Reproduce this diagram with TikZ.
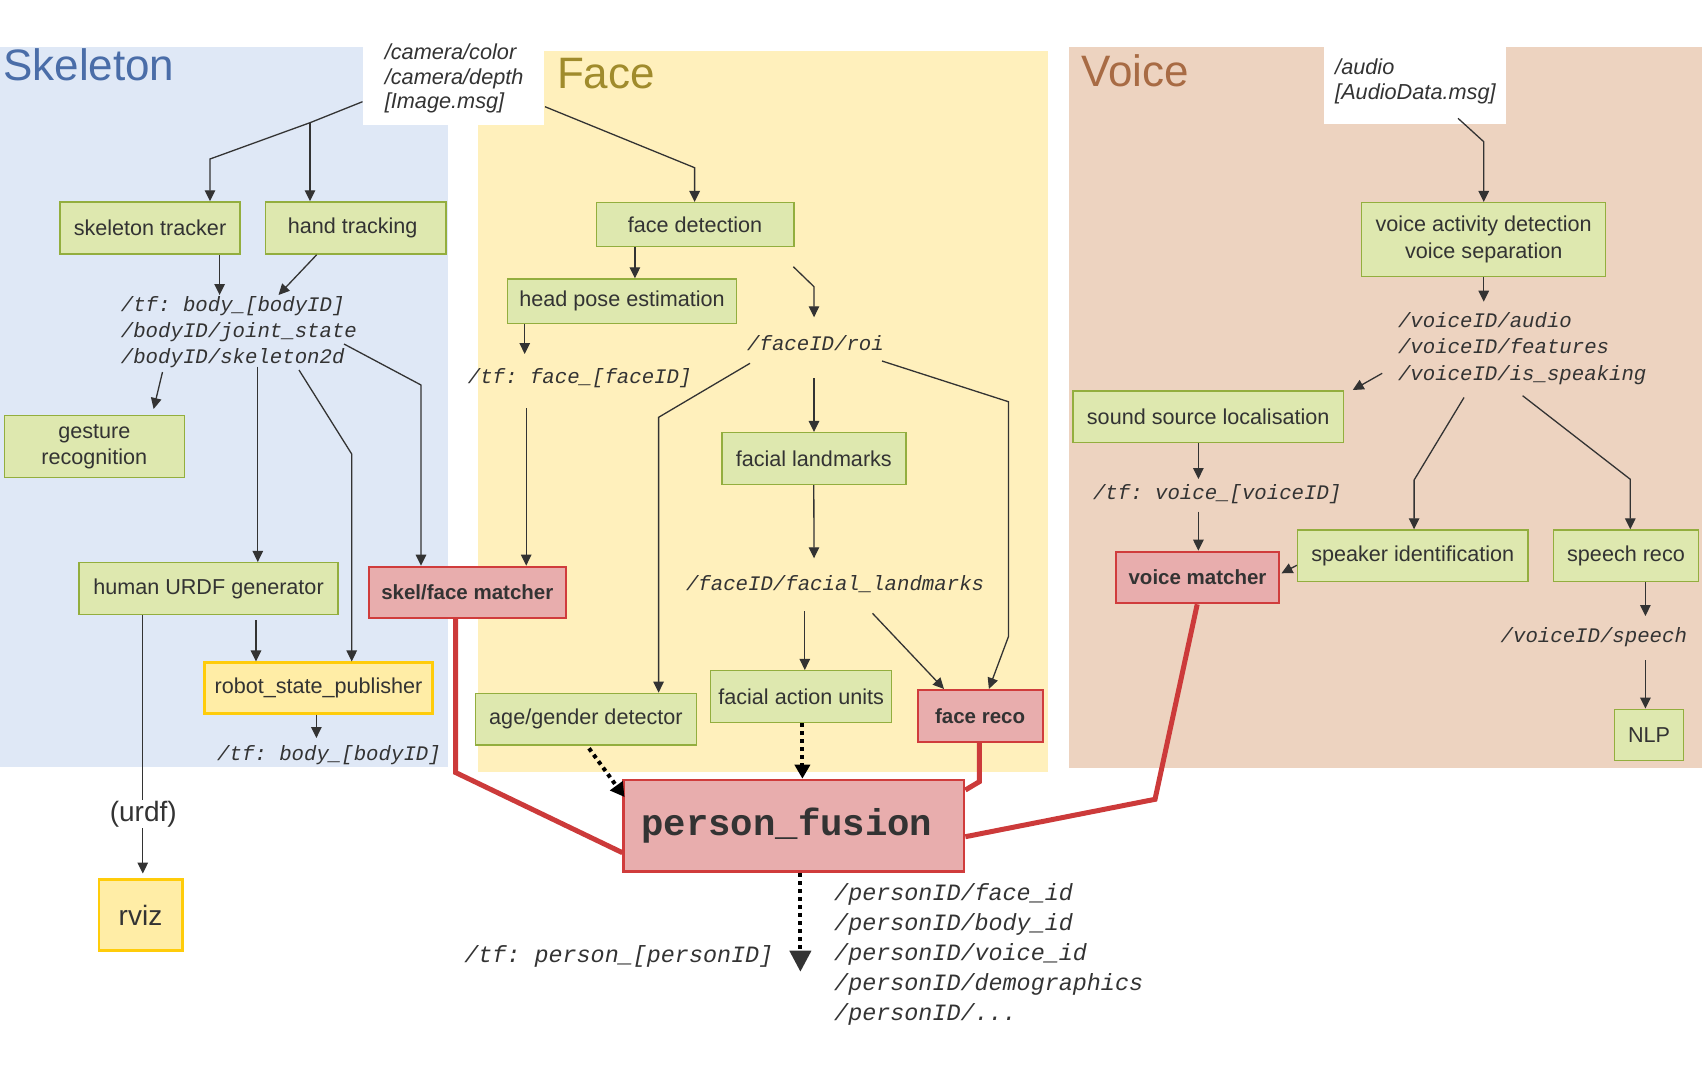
\documentclass[tikz,border=0pt]{standalone}
\usepackage{fontspec}
\setmainfont{Liberation Sans}
\setmonofont{Liberation Mono}
\usetikzlibrary{arrows.meta}
\definecolor{bgblue}{HTML}{DFE8F6}
\definecolor{bgyellow}{HTML}{FFF0BC}
\definecolor{bgvoice}{HTML}{EDD3C0}
\definecolor{gfill}{HTML}{DEE8AF}
\definecolor{gdraw}{HTML}{93AE3E}
\definecolor{rfill}{HTML}{E8ADAD}
\definecolor{rdraw}{HTML}{D03C3C}
\definecolor{yfill}{HTML}{FFEDA6}
\definecolor{ydraw}{HTML}{FFCC0A}
\definecolor{txt}{HTML}{333333}
\definecolor{redline}{HTML}{CC3A3A}
\definecolor{tblue}{HTML}{4A6DA8}
\definecolor{tgold}{HTML}{A08B2C}
\definecolor{tbrown}{HTML}{A86B44}
\newcommand\fBox{\fontsize{21.6}{26.8}\selectfont}
\newcommand\fBold{\fontsize{20.5}{24}\selectfont\bfseries}
\newcommand\fMono{\fontsize{20.7}{26.2}\selectfont\ttfamily\itshape}
\newcommand\fMonoL{\fontsize{23.4}{29.8}\selectfont\ttfamily\itshape}
\newcommand\fItal{\fontsize{21.7}{24.6}\selectfont\itshape}
\newcommand\fBig{\fontsize{28}{32}\selectfont}
\newcommand\fPF{\fontsize{37.3}{40}\selectfont\ttfamily\bfseries}
\newcommand\fTitle{\fontsize{44}{50}\selectfont}
\tikzset{
  box/.style={draw, inner sep=0pt, align=center, text=txt, font=\fBox},
  gbox/.style={box, fill=gfill, draw=gdraw, line width=1.5pt},
  rbox/.style={box, fill=rfill, draw=rdraw, line width=2pt, font=\fBold},
  ybox/.style={box, fill=yfill, draw=ydraw, line width=2.5pt},
  mono/.style={inner sep=0pt, text=txt, font=\fMono, align=left},
  ital/.style={inner sep=0pt, text=txt, font=\fItal, align=left},
  conn/.style={draw=txt, line width=1.3pt, -{Triangle[length=11pt,width=10.5pt]}},
  plainline/.style={draw=txt, line width=1.3pt},
  dotconn/.style={draw=black, line width=4pt, dash pattern=on 4pt off 4pt, -{Triangle[length=14pt,width=15pt]}},
  bigdot/.style={draw=black, line width=4pt, dash pattern=on 4pt off 4pt, -{Triangle[length=21pt,width=21pt,color=txt]}},
  fuse/.style={draw=redline, line width=5pt, line join=miter},
  titletext/.style={inner sep=0pt, anchor=base west, font=\fTitle},
}
\begin{document}
\begin{tikzpicture}[x=1pt,y=-1pt]
\useasboundingbox (0,0) rectangle (1702,1069);
% backgrounds
\fill[bgblue] (0,46.7) rectangle (447.5,766.7);
\fill[bgyellow] (477.7,51) rectangle (1048,771.7);
\fill[bgvoice] (1069,47.3) rectangle (1702,768.3);
\fill[white] (362.5,38) rectangle (544,125);
\fill[white] (1324,47.3) rectangle (1506.3,124);
% titles
\node[titletext, text=tblue] (tsk) at (3,80.5) {Skeleton};
\node[titletext, text=tgold] (tfa) at (556.8,88.3) {Face};
\node[titletext, text=tbrown] (tvo) at (1081.3,86.7) {Voice};
% inputs
\node[ital, anchor=west] (cam) at (384.6,78.5) {/camera/color\\/camera/depth\\{}[Image.msg]};
\node[ital, anchor=west] (aud) at (1335,81.5) {/audio\\{}[AudioData.msg]};
% boxes
\node[gbox, minimum width=180pt, minimum height=52pt] (skt) at (150,228) {skeleton tracker};
\node[gbox, minimum width=180.5pt, minimum height=52pt] (hand) at (355.7,228) {hand tracking\hspace*{6pt}};
\node[gbox, minimum width=180pt, minimum height=62pt] (gest) at (94.3,446.7) {gesture\\recognition};
\node[gbox, minimum width=259pt, minimum height=52pt] (urdf) at (208.5,588.7) {human URDF generator};
\node[ybox, minimum width=228pt, minimum height=50.6pt] (rsp) at (318.5,688) {robot\_state\_publisher};
\node[rbox, minimum width=197.4pt, minimum height=51.3pt] (sfm) at (467.3,592.3) {skel/face matcher};
\node[gbox, minimum width=197.5pt, minimum height=44pt] (fdet) at (695,224.7) {face detection};
\node[gbox, minimum width=229.2pt, minimum height=44.3pt] (hpe) at (622.1,301.2) {head pose estimation};
\node[gbox, minimum width=184pt, minimum height=51.6pt] (flm) at (813.8,458.5) {facial landmarks};
\node[gbox, minimum width=221.2pt, minimum height=51.7pt] (agd) at (585.9,719.2) {age/gender detector};
\node[gbox, minimum width=181pt, minimum height=51.6pt] (fau) at (801.2,696.5) {facial action units};
\node[rbox, minimum width=124.8pt, minimum height=51.7pt] (freco) at (980.1,715.8) {face reco};
\node[gbox, minimum width=244pt, minimum height=74pt] (vad) at (1483.7,239.7) {voice activity detection\\voice separation};
\node[gbox, minimum width=270.3pt, minimum height=51.3pt] (ssl) at (1208.2,416.7) {sound source localisation};
\node[rbox, minimum width=162.1pt, minimum height=51.6pt] (vm) at (1197.5,577.5) {voice matcher};
\node[gbox, minimum width=230.5pt, minimum height=51.3pt] (spk) at (1412.8,555.7) {speaker identification};
\node[gbox, minimum width=145.4pt, minimum height=51.3pt] (sreco) at (1626,555.7) {speech reco};
\node[gbox, minimum width=68.8pt, minimum height=51.4pt] (nlp) at (1649.1,735) {NLP};
\node[ybox, minimum width=83.5pt, minimum height=70.6pt, font=\fBig] (rviz) at (140.5,915) {rviz};
% topic texts
\node[mono, anchor=west] (tfb) at (120.7,332) {/tf: body\_[bodyID]\\/bodyID/joint\_state\\/bodyID/skeleton2d};
\node[mono, anchor=east] (tfb2) at (441,755) {/tf: body\_[bodyID]};
\node[mono, anchor=west] (roi) at (747,342.7) {/faceID/roi};
\node[mono, anchor=west] (tff) at (467.7,378.3) {/tf: face\_[faceID]};
\node[mono, anchor=west] (flmt) at (685.8,584) {/faceID/facial\_landmarks};
\node[mono, anchor=west] (tfv) at (1092.8,494.3) {/tf: voice\_[voiceID]};
\node[mono, anchor=west] (vids) at (1397.8,348.5) {/voiceID/audio\\/voiceID/features\\/voiceID/is\_speaking};
\node[mono, anchor=east] (spch) at (1687.2,636.7) {/voiceID/speech};
\node[mono, anchor=east, font=\fMonoL] (tfp) at (773.5,956.7) {/tf: person\_[personID]};
\node[mono, anchor=west, font=\fMonoL] (pids) at (834,954.5) {/personID/face\_id\\/personID/body\_id\\/personID/voice\_id\\/personID/demographics\\/personID/...};
\node[inner sep=1pt, font=\fBig, text=txt] (ulbl) at (143.3,814) {(urdf)};
% person fusion and red fusion lines
\coordinate (z0) at (455.6,772.5); \coordinate (z1) at (0,852.7);
\coordinate (aa0) at (979.3,781.7); \coordinate (aa1) at (0,790);
\coordinate (ab0) at (1197.2,0); \coordinate (ab1) at (1155,799.3); \coordinate (ab2) at (0,836.7);
\node[rbox, line width=2.5pt, minimum width=340.4pt, minimum height=91.7pt, font=\fPF] (pf) at (793.9,825.8) {person\_fusion\hspace*{14pt}};
\draw[fuse] (sfm.south -| z0) -- (z0) -- (pf.west |- z1);
\draw[fuse] (freco.south -| aa0) -- (aa0) -- (pf.east |- aa1);
\draw[fuse] (vm.south -| ab0) -- (ab1) -- (pf.east |- ab2);
% camera connectors
\coordinate (cs) at (362.5,101.7); \coordinate (cj) at (310,122.7); \coordinate (cb) at (210,159);
\draw[plainline] (cs) -- (cj);
\draw[conn] (cj) -- (cb) -- (cb |- skt.north);
\draw[conn] (cj) -- (cj |- hand.north);
\coordinate (cs2) at (545,106.7); \coordinate (cf) at (694.6,167.7);
\draw[conn] (cs2) -- (cf) -- (cf |- fdet.north);
% skeleton connectors
\coordinate (d1) at (219.6,295); \draw[conn] (skt.south -| d1) -- (d1);
\coordinate (e0) at (316.7,255); \coordinate (e1) at (278.5,295); \draw[conn] (hand.south -| e0) -- (e1);
\coordinate (f0) at (162.5,372); \coordinate (f1) at (153.6,409); \draw[conn] (f0) -- (f1);
\coordinate (g0) at (257.8,366.7); \draw[conn] (g0) -- (g0 |- urdf.north);
\coordinate (h0) at (299,370); \coordinate (h1) at (351.7,454); \draw[conn] (h0) -- (h1) -- (h1 |- rsp.north);
\coordinate (i0) at (344,344); \coordinate (i1) at (421,385); \draw[conn] (i0) -- (i1) -- (i1 |- sfm.north);
\coordinate (j0) at (256,620); \draw[conn] (j0) -- (j0 |- rsp.north);
\coordinate (k0) at (316.4,715); \coordinate (k1) at (316.4,738); \draw[conn] (rsp.south -| k0) -- (k1);
\coordinate (l0) at (142.8,0); \coordinate (l1) at (142.8,873.5);
\draw[plainline] (urdf.south -| l0) -- (ulbl.north -| l0);
\draw[conn] (ulbl.south -| l0) -- (l1);
% face connectors
\coordinate (n0) at (634.9,0); \draw[conn] (fdet.south -| n0) -- (n0 |- hpe.north);
\coordinate (o0) at (793.3,266.7); \coordinate (o1) at (814,286.7); \coordinate (o2) at (814,317.3); \draw[conn] (o0) -- (o1) -- (o2);
\coordinate (m0) at (524.7,0); \coordinate (m1) at (524.7,354); \draw[conn] (hpe.south -| m0) -- (m1);
\coordinate (p0) at (526.2,408.3); \draw[conn] (p0) -- (p0 |- sfm.north);
\coordinate (q0) at (750,363.3); \coordinate (q1) at (658.6,417.3); \draw[conn] (q0) -- (q1) -- (q1 |- agd.north);
\coordinate (r0) at (814,378); \draw[conn] (r0) -- (r0 |- flm.north);
\coordinate (s0) at (882,361); \coordinate (s1) at (1008.4,401.7); \coordinate (s2) at (1008.4,636.7); \coordinate (s3) at (988.9,0);
\draw[conn] (s0) -- (s1) -- (s2) -- (s3 |- freco.north);
\coordinate (t1) at (814,558.3); \draw[conn] (flm.south) -- (t1);
\coordinate (u0) at (804.8,611); \draw[conn] (u0) -- (u0 |- fau.north);
\coordinate (v0) at (872.5,613.3); \coordinate (v1) at (944,0); \draw[conn] (v0) -- (v1 |- freco.north);
\coordinate (w0) at (589,748.3); \coordinate (w1) at (624.5,797); \draw[dotconn] (w0) -- (w1);
\coordinate (x0) at (802.4,0); \draw[dotconn] (fau.south -| x0) -- (x0 |- pf.north);
\coordinate (y0) at (800.4,0); \coordinate (y1) at (800.4,971.7); \draw[bigdot] (pf.south -| y0) -- (y1);
% voice connectors
\coordinate (ac0) at (1458,118.3); \coordinate (ac1) at (1483.7,141.7); \draw[conn] (ac0) -- (ac1) -- (ac1 |- vad.north);
\coordinate (ad1) at (1483.7,301.7); \draw[conn] (vad.south) -- (ad1);
\coordinate (ae0) at (1382.2,373.3); \coordinate (ae1) at (1352.7,390); \draw[conn] (ae0) -- (ae1);
\coordinate (af0) at (1464,397.5); \coordinate (af1) at (1414.1,480); \draw[conn] (af0) -- (af1) -- (af1 |- spk.north);
\coordinate (ag0) at (1522.6,395.7); \coordinate (ag1) at (1630.3,479.3); \draw[conn] (ag0) -- (ag1) -- (ag1 |- sreco.north);
\coordinate (ah0) at (1198.4,0); \coordinate (ah1) at (1198.4,479); \draw[conn] (ssl.south -| ah0) -- (ah1);
\coordinate (ai0) at (1198.4,511.7); \draw[conn] (ai0) -- (ai0 |- vm.north);
\coordinate (aj0) at (0,565.3); \coordinate (aj1) at (1281.5,573.3); \draw[conn] (spk.west |- aj0) -- (aj1);
\coordinate (ak0) at (1645.4,0); \coordinate (ak1) at (1645.4,616); \draw[conn] (sreco.south -| ak0) -- (ak1);
\coordinate (al0) at (1645.4,660); \draw[conn] (al0) -- (al0 |- nlp.north);
\end{tikzpicture}
\end{document}
